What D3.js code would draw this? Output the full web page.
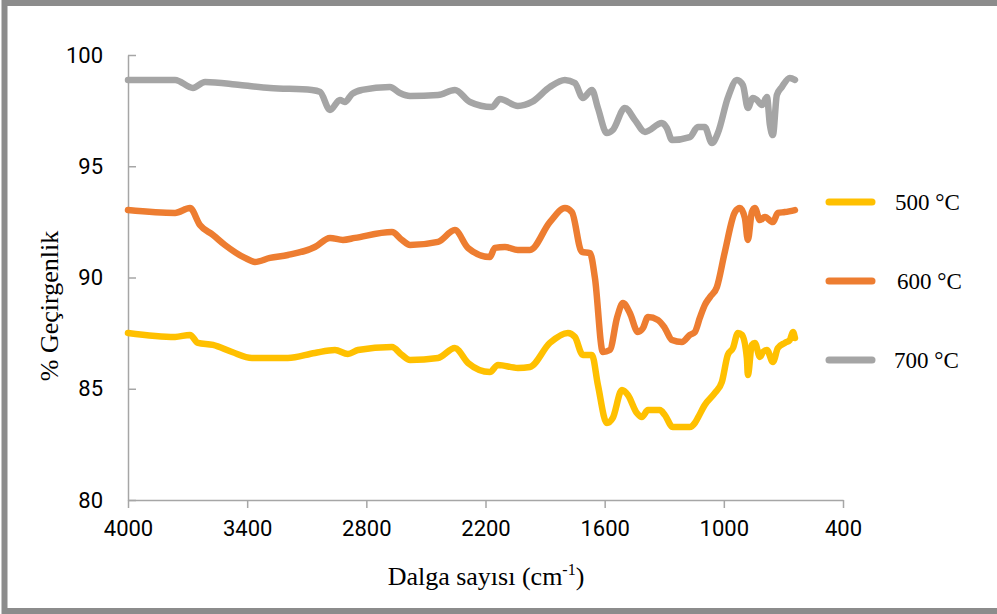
<!DOCTYPE html>
<html>
<head>
<meta charset="utf-8">
<script src="https://cdn.jsdelivr.net/npm/d3@7"></script>
<style>
  html, body { margin: 0; padding: 0; background: #fff; }
  svg { display: block; }
</style>
</head>
<body>
<svg id="chart" width="997" height="614"></svg>
<script>
// FTIR transmittance spectra of samples calcined at three temperatures.
// Each series: [wavenumber (cm-1), transmittance (%)]
const series500 = [
  [4000, 87.51], [3763, 87.33], [3688, 87.42], [3648, 87.06], [3572, 86.97],
  [3476, 86.65], [3376, 86.38], [3195, 86.38], [3059, 86.61], [2958, 86.74],
  [2893, 86.56], [2842, 86.74], [2671, 86.88], [2621, 86.52], [2580, 86.29],
  [2439, 86.38], [2354, 86.83], [2288, 86.16], [2178, 85.75], [2137, 86.07],
  [2037, 85.93], [1976, 85.98], [1876, 87.06], [1785, 87.51], [1750, 87.33],
  [1710, 86.52], [1664, 86.52], [1634, 85.17], [1589, 83.46], [1559, 83.69],
  [1513, 84.94], [1483, 84.72], [1438, 83.91], [1413, 83.73], [1382, 84.04],
  [1322, 84.04], [1297, 83.82], [1257, 83.28], [1171, 83.28], [1146, 83.46],
  [1131, 83.69], [1096, 84.27], [1045, 84.81], [1010, 85.30], [980, 86.52],
  [954, 86.83], [929, 87.51], [909, 87.42], [884, 86.38], [879, 85.62],
  [859, 86.97], [844, 87.06], [818, 86.43], [803, 86.65], [783, 86.74],
  [753, 86.20], [728, 86.83], [693, 87.06], [668, 87.19], [652, 87.55],
  [642, 87.28]
];
const series600 = [
  [4000, 93.03], [3763, 92.90], [3688, 93.12], [3638, 92.36], [3572, 91.91],
  [3512, 91.46], [3411, 90.88], [3361, 90.70], [3285, 90.88], [3195, 91.01],
  [3059, 91.37], [2983, 91.78], [2918, 91.69], [2857, 91.78], [2671, 92.04],
  [2621, 91.69], [2580, 91.46], [2439, 91.60], [2354, 92.13], [2288, 91.33],
  [2178, 90.92], [2153, 91.33], [2102, 91.37], [2037, 91.24], [1976, 91.24],
  [1876, 92.49], [1800, 93.12], [1765, 92.94], [1715, 91.15], [1674, 91.10],
  [1649, 89.98], [1609, 86.65], [1574, 86.74], [1538, 88.18], [1508, 88.85],
  [1473, 88.40], [1433, 87.55], [1407, 87.73], [1382, 88.22], [1332, 88.09],
  [1297, 87.73], [1261, 87.19], [1211, 87.10], [1171, 87.42], [1146, 87.55],
  [1121, 88.18], [1096, 88.76], [1070, 89.12], [1035, 89.57], [995, 91.15],
  [944, 92.94], [919, 93.12], [894, 92.67], [879, 91.69], [859, 92.94],
  [844, 93.12], [818, 92.58], [793, 92.72], [753, 92.49], [728, 92.90],
  [693, 92.94], [642, 93.03]
];
const series700 = [
  [4000, 98.88], [3763, 98.88], [3673, 98.52], [3612, 98.79], [3436, 98.65],
  [3285, 98.52], [3074, 98.43], [3033, 98.34], [2983, 97.53], [2933, 97.98],
  [2908, 97.89], [2872, 98.25], [2822, 98.43], [2681, 98.56], [2631, 98.29],
  [2580, 98.16], [2439, 98.20], [2354, 98.43], [2278, 97.89], [2168, 97.66],
  [2127, 98.02], [2037, 97.71], [1966, 97.89], [1876, 98.56], [1800, 98.88],
  [1750, 98.74], [1710, 98.07], [1664, 98.43], [1634, 97.62], [1589, 96.49],
  [1559, 96.63], [1498, 97.62], [1448, 97.08], [1397, 96.54], [1312, 96.94],
  [1287, 96.72], [1261, 96.18], [1171, 96.31], [1131, 96.76], [1096, 96.76],
  [1060, 96.04], [1030, 96.49], [980, 98.07], [934, 98.88], [904, 98.65],
  [879, 97.62], [854, 98.07], [834, 97.98], [808, 97.75], [783, 98.11],
  [768, 96.85], [753, 96.40], [733, 98.20], [708, 98.56], [668, 98.97],
  [642, 98.88]
];

const seriesNames = ["500 °C", "600 °C", "700 °C"];
const seriesColors = ["#FFC000", "#ED7D31", "#A5A5A5"];
const seriesData = [series500, series600, series700];

const xTicks = [4000, 3400, 2800, 2200, 1600, 1000, 400];
const yTicks = [80, 85, 90, 95, 100];

const svg = d3.select("#chart");
const W = 997, H = 614;

// outer frame
svg.append("rect")
  .attr("x", 4.5).attr("y", 3)
  .attr("width", W + 10).attr("height", 608)
  .attr("fill", "#fff")
  .attr("stroke", "#8c8c8c")
  .attr("stroke-width", 6);

const plot = { left: 128, right: 843, top: 55, bottom: 500 };

const x = d3.scaleLinear().domain([4000, 400]).range([plot.left, plot.right]);
const y = d3.scaleLinear().domain([80, 100]).range([plot.bottom, plot.top]);

const axisColor = "#a6a6a6";
const tickFont = "Roboto, 'Liberation Sans', sans-serif";

// x axis
const xAxis = svg.append("g")
  .attr("transform", `translate(0,${plot.bottom})`)
  .call(d3.axisBottom(x).tickValues(xTicks).tickSize(8).tickSizeOuter(0).tickPadding(12).tickFormat(d3.format("d")));
xAxis.select(".domain").attr("stroke", axisColor).attr("stroke-width", 1.5);
xAxis.selectAll(".tick line").attr("stroke", axisColor).attr("stroke-width", 1.5);
xAxis.selectAll(".tick text")
  .attr("font-family", tickFont).attr("font-size", 22).attr("fill", "#000");

// y axis (ticks point inward)
const yAxis = svg.append("g")
  .attr("transform", `translate(${plot.left},0)`)
  .call(d3.axisLeft(y).tickValues(yTicks).tickSize(-8).tickSizeOuter(0).tickFormat(d3.format("d")));
yAxis.select(".domain").attr("stroke", axisColor).attr("stroke-width", 1.5);
yAxis.selectAll(".tick line").attr("stroke", axisColor).attr("stroke-width", 1.5);
yAxis.selectAll(".tick text")
  .attr("font-family", tickFont).attr("font-size", 22).attr("fill", "#000")
  .attr("x", -25);

// spectra
const line = d3.line()
  .x(d => x(d[0]))
  .y(d => y(d[1]))
  .curve(d3.curveMonotoneX);

seriesData.forEach((data, i) => {
  svg.append("path")
    .datum(data.slice().sort((a, b) => a[0] - b[0]))
    .attr("fill", "none")
    .attr("stroke", seriesColors[i])
    .attr("stroke-width", 6.5)
    .attr("stroke-linejoin", "round")
    .attr("stroke-linecap", "round")
    .attr("d", line);
});

// axis titles
const serif = "'Liberation Serif', 'Times New Roman', serif";
svg.append("text")
  .attr("transform", "translate(58,306) rotate(-90)")
  .attr("text-anchor", "middle")
  .attr("font-family", serif).attr("font-size", 26).attr("fill", "#000")
  .text("% Geçirgenlik");

const xTitle = svg.append("text")
  .attr("x", 486).attr("y", 585)
  .attr("text-anchor", "middle")
  .attr("font-family", serif).attr("font-size", 26).attr("fill", "#000");
xTitle.append("tspan").text("Dalga sayısı (cm");
xTitle.append("tspan").attr("font-size", 16).attr("dy", -10).text("-1");
xTitle.append("tspan").attr("dy", 10).text(")");

// legend
const legendY = [202, 281, 360];
const legendTextX = [895, 897, 894];
seriesNames.forEach((name, i) => {
  svg.append("line")
    .attr("x1", 829).attr("x2", 872)
    .attr("y1", legendY[i]).attr("y2", legendY[i])
    .attr("stroke", seriesColors[i])
    .attr("stroke-width", 7)
    .attr("stroke-linecap", "round");
  svg.append("text")
    .attr("x", legendTextX[i]).attr("y", legendY[i] + 8)
    .attr("font-family", serif).attr("font-size", 23).attr("fill", "#000")
    .text(name);
});
</script>
</body>
</html>
